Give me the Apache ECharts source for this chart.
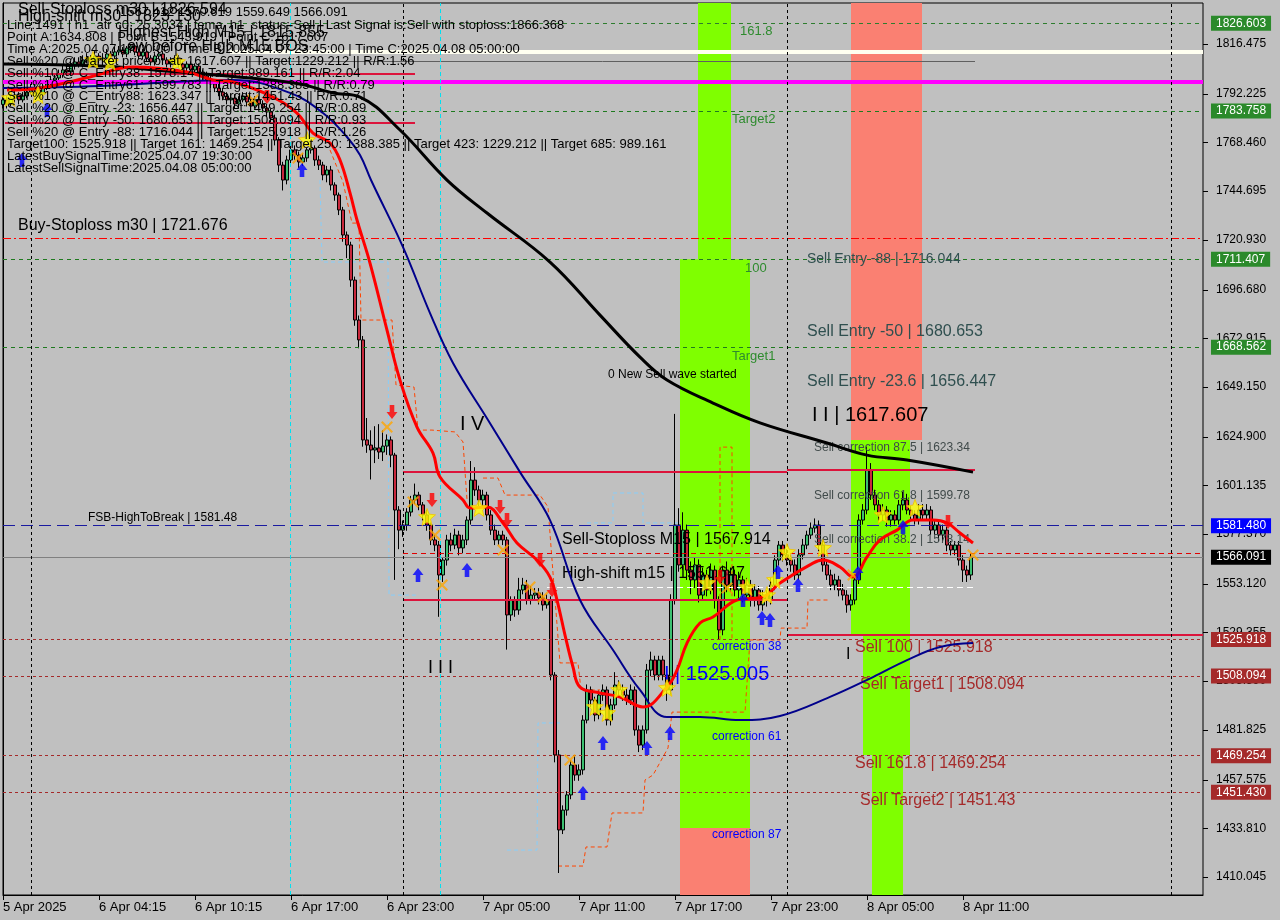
<!DOCTYPE html>
<html><head><meta charset="utf-8">
<script src="https://cdn.jsdelivr.net/npm/echarts@6/dist/echarts.min.js"></script>
<style>html,body{margin:0;padding:0;background:#c0c0c0;}#c{width:1280px;height:920px;}</style>
</head><body><div id="c"></div>
<script>
// ---------------- DATA ----------------
const timeLabels = ['5 Apr 2025','6 Apr 04:15','6 Apr 10:15','6 Apr 17:00','6 Apr 23:00','7 Apr 05:00','7 Apr 11:00','7 Apr 17:00','7 Apr 23:00','8 Apr 05:00','8 Apr 11:00'];
const yTicks = [1816.475,1792.225,1768.460,1744.695,1720.930,1696.680,1672.915,1649.150,1624.900,1601.135,1577.370,1553.120,1529.355,1505.590,1481.825,1457.575,1433.810,1410.045];
const firstOpen = 1787.0;
const closes = [1789.2,1787.2,1790.1,1791.6,1789.2,1791.1,1793.0,1795.0,1794.0,1792.1,
1795.0,1797.0,1798.9,1799.9,1801.8,1803.8,1802.8,1805.7,1807.7,1806.7,
1808.7,1809.6,1807.7,1810.6,1808.7,1809.6,1811.6,1810.6,1812.6,1813.5,
1811.6,1814.5,1815.5,1812.6,1810.6,1812.6,1809.6,1807.7,1810.6,1811.6,
1808.7,1806.7,1808.7,1809.6,1806.7,1804.8,1806.7,1803.8,1805.7,1802.8,
1800.9,1798.9,1797.0,1795.0,1793.0,1791.1,1789.2,1790.1,1787.2,1789.2,
1791.1,1788.2,1786.2,1789.2,1787.2,1785.2,1783.3,1780.4,1769.6,1757.4,
1750.1,1759.9,1764.8,1762.3,1758.9,1760.9,1764.8,1765.7,1759.9,1757.4,
1752.6,1755.0,1747.7,1742.8,1735.5,1723.3,1718.4,1701.3,1681.8,1672.1,
1623.3,1620.8,1618.4,1619.4,1617.4,1620.3,1623.3,1615.9,1589.1,1579.3,
1581.8,1588.1,1594.0,1596.4,1591.6,1586.7,1581.8,1574.5,1572.0,1557.4,
1564.7,1574.5,1572.0,1576.9,1570.6,1574.5,1584.2,1603.7,1598.9,1594.0,
1596.4,1586.7,1579.3,1574.5,1576.9,1574.5,1537.9,1545.2,1540.3,1550.1,
1552.5,1545.2,1547.6,1548.6,1546.2,1542.8,1545.2,1508.6,1469.6,1433.0,
1442.7,1450.1,1464.7,1459.8,1462.3,1486.6,1501.3,1496.4,1489.1,1498.8,
1501.3,1486.6,1494.0,1503.7,1501.3,1498.8,1496.4,1501.3,1481.8,1474.4,
1481.8,1511.0,1515.9,1508.6,1515.9,1508.6,1501.3,1545.2,1581.8,1562.3,
1579.3,1559.8,1555.0,1562.3,1547.6,1557.4,1550.1,1559.8,1545.2,1530.6,
1559.8,1552.5,1557.4,1550.1,1555.0,1547.6,1552.5,1545.2,1550.1,1542.8,
1547.6,1545.2,1552.5,1564.7,1572.0,1567.2,1564.7,1562.3,1557.4,1567.2,
1572.0,1576.9,1580.3,1581.8,1572.0,1562.3,1557.4,1552.5,1555.0,1550.1,
1547.6,1542.8,1545.2,1555.0,1584.2,1589.1,1608.6,1596.4,1591.6,1586.7,
1589.1,1584.2,1586.7,1584.2,1591.6,1594.0,1589.1,1586.7,1584.2,1589.1,
1586.7,1589.1,1579.3,1581.8,1576.9,1579.3,1572.0,1569.6,1572.0,1564.7,
1559.8,1557.4,1566.1];
const highs = [1791,1791,1792,1794,1793,1793,1795,1797,1797,1796,
1797,1799,1801,1802,1804,1806,1806,1808,1810,1810,
1811,1812,1811,1813,1812,1812,1814,1813,1815,1815.5,
1815,1815.5,1815.9,1815.8,1814,1814,1814,1811,1812,1813,
1813,1810,1810,1811,1811,1808,1808,1808,1807,1807,
1804,1803,1801,1799,1797,1795,1793,1792,1792,1791,
1793,1793,1790,1791,1791,1789,1787,1785,1782,1771,
1759,1762,1767,1767,1764,1763,1766,1768,1767,1762,
1759,1757,1757,1749,1744,1737,1725,1720,1703,1684,
1674,1634,1628,1630,1631,1628,1626,1625,1617,1591,
1584,1590,1596,1602,1598,1593,1589,1583,1577,1574,
1566,1577,1578,1580,1579,1577,1586,1613,1610,1601,
1599,1598,1589,1582,1579,1579,1576,1547,1547,1556,
1556,1555,1552,1551,1551,1549,1548,1547,1510,1472,
1445,1452,1467,1469,1465,1489,1504,1503,1498,1501,
1504,1503,1497,1510,1506,1504,1502,1504,1503,1484,
1484,1514,1520,1518,1518,1518,1511,1548,1636,1590,
1588,1582,1564,1566,1565,1561,1560,1563,1562,1547,
1562,1564,1561,1560,1559,1557,1556,1555,1553,1552,
1550,1550,1556,1567,1574,1574,1570,1567,1565,1570,
1575,1579,1583,1585,1584,1574,1565,1560,1558,1557,
1553,1550,1548,1558,1587,1592,1620,1612,1599,1594,
1592,1591,1589,1589,1594,1598,1597,1591,1589,1592,
1592,1592,1591,1584,1584,1582,1581,1574,1574,1574,
1567,1562,1568];
const lows = [1785,1785,1786,1788,1787,1788,1790,1792,1792,1790,
1791,1794,1796,1797,1798,1800,1801,1801,1804,1805,
1805,1807,1806,1806,1807,1807,1808,1809,1809,1811,
1810,1810,1813,1811,1809,1809,1808,1806,1806,1809,
1807,1805,1805,1807,1805,1803,1803,1802,1802,1801,
1799,1797,1795,1793,1791,1789,1787,1787,1785,1785,
1788,1786,1784,1785,1785,1783,1781,1778,1767,1754,
1745,1748,1757,1760,1756,1757,1759,1763,1757,1755,
1750,1749,1745,1740,1733,1720,1712,1698,1679,1668,
1620,1617,1604,1612,1614,1613,1616,1610,1555,1570,
1576,1579,1586,1592,1589,1584,1579,1572,1569,1537,
1554,1562,1569,1570,1567,1568,1572,1582,1596,1591,
1591,1584,1577,1572,1572,1572,1521,1535,1537,1538,
1548,1543,1543,1545,1543,1540,1541,1506,1466,1412,
1431,1440,1448,1457,1457,1460,1485,1493,1486,1487,
1496,1484,1484,1492,1498,1496,1494,1494,1479,1471,
1472,1480,1508,1506,1506,1506,1496,1499,1543,1559,
1560,1555,1548,1551,1544,1545,1547,1548,1541,1526,
1528,1549,1549,1547,1546,1544,1545,1542,1542,1540,
1540,1542,1543,1550,1562,1564,1562,1559,1555,1555,
1565,1570,1575,1578,1569,1559,1555,1550,1550,1547,
1545,1539,1540,1543,1553,1582,1587,1594,1589,1584,
1584,1581,1581,1582,1582,1589,1587,1584,1582,1582,
1584,1584,1577,1577,1574,1574,1569,1567,1567,1562,
1554,1554,1555];

// moving averages: [bar slot, price]
const slowMA = [[0,1806.7],[24.25,1805.7],[44.25,1802.8],[61.75,1799.9],[74.25,1797.0],[82.5,1792.6],[89.25,1790.6],[99.25,1774.5],[111,1750.1],[121,1734.0],[136.75,1710.1],[149.25,1684.2],[159.25,1663.7],[166,1652.5],[177.5,1641.3],[189.25,1631.6],[206,1621.8],[216,1615.9],[226,1613.5],[242.5,1607.6]];
const midMA = [[0,1795.0],[24.25,1796.0],[57.5,1798.9],[71.75,1792.6],[80,1782.8],[86,1771.1],[89.25,1762.3],[92,1750.1],[100,1717.4],[106.75,1685.2],[112.5,1660.8],[121.25,1633.0],[129.25,1607.6],[136.75,1584.2],[144.25,1545.2],[152.5,1520.8],[159.25,1501.3],[166,1488.1],[174.25,1488.1],[184.25,1486.6],[194.25,1488.6],[206.75,1497.9],[217.5,1507.6],[226,1515.9],[234.25,1522.3],[242.5,1524.2]];
const fastMA = [[1,1794.0],[9.25,1795.0],[21.75,1800.4],[32.5,1805.2],[46,1802.8],[52.5,1798.9],[57.5,1797.9],[67.5,1790.6],[73.5,1782.8],[77.5,1773.0],[81.75,1768.2],[84.25,1759.9],[86.75,1743.8],[88.5,1730.6],[91.75,1709.6],[96,1676.9],[99.25,1652.5],[103.5,1629.6],[107.5,1616.9],[109.25,1605.2],[115,1594.0],[116.75,1590.1],[121,1590.6],[125,1582.8],[128.5,1573.0],[133.5,1564.7],[136.75,1556.4],[138.5,1545.2],[140.5,1528.1],[142.5,1512.5],[144.25,1502.7],[149.25,1499.8],[154.25,1497.9],[160,1493.0],[166,1502.7],[168.5,1511.0],[171,1524.2],[174.25,1534.0],[177.5,1536.9],[183.5,1545.2],[190,1546.7],[194.25,1553.5],[202.5,1563.2],[205,1564.7],[209.25,1561.3],[212.5,1556.4],[216,1566.2],[219.25,1574.5],[223.5,1579.3],[227.5,1584.2],[232.5,1584.2],[236,1582.8],[239.25,1577.9],[242.5,1573.0]];

// thin step envelopes
const orangeTrails = [
 [[81.75,1764.8],[85,1749.1],[87.25,1729.1],[89,1729.1],[89.5,1681.8],[97.25,1681.8],[98.25,1650.1],[102.75,1649.1],[103.75,1628.1],[107.25,1628.1],[113,1627.2],[115,1622.3],[116,1594.0]],
 [[120,1604.7],[123.75,1604.7],[125.5,1596.4],[134.25,1596.4],[136.25,1590.6],[137.25,1564.7],[139.25,1514.5],[143.75,1514.5],[144.5,1501.3],[149.25,1501.3]],
 [[138.75,1415.4],[145,1415.4],[145.75,1424.7],[151,1424.7],[152.25,1441.3],[160,1441.3],[160.5,1457.4],[162.5,1459.8],[166.25,1473.0],[167.25,1490.5],[185.5,1490.5],[186.75,1525.7],[194.25,1525.7],[194.5,1531.5],[201,1531.5],[201.25,1545.2],[206.75,1545.2]],
 [[179.25,1525.7],[179.25,1619.8],[182.25,1619.8],[182.25,1525.7]]
];
const blueTrails = [
 [[79.25,1750.1],[79.75,1710.1],[96.25,1710.1],[96.5,1547.6],[103.75,1547.6]],
 [[146,1582.8],[152.5,1582.8],[152.5,1597.4],[160,1597.4],[160,1582.8],[168.75,1582.8]],
 [[126,1423.2],[133.5,1423.2],[133.75,1485.2],[139.25,1485.2]]
];

// price levels shown with a box on the price axis
const boxLevels = [1826.603,1783.758,1711.407,1668.562,1581.480,1566.091,1525.918,1508.094,1469.254,1451.430];
const boxKinds  = ['stop','green','green','green','blue','price','brown','brown','brown','brown'];
const buyStop = 1721.676;
// horizontal segments [fromSlot, toSlot, price, kind]
const segments = [
 [56.75,300,1812.6,'ivory'],[56.75,243,1808.2,'thin'],[0,300,1797.9,'magenta'],
 [0.5,103,1801.8,'red'],[0.5,103,1777.9,'red'],
 [100,196,1607.6,'crimson'],[196,243,1608.6,'crimson'],[100,196,1545.2,'crimson'],[196,300,1528.1,'crimson'],
 [100,300,1567.914,'reddash'],[136,243,1551.647,'whitedash']
];
const daySeparators = [7,100,196,292];
const cyanVerticals = [71.75,109.25];

// coloured zones [x1,x2,priceTop,priceBottom,kind]
const zones = [
 [173.75,182,1836.5,1711.4,'green'],[169.25,186.75,1711.4,1434.0,'green'],[169.25,186.75,1434.0,1401.3,'salmon'],
 [212,229.75,1836.5,1623.3,'salmon'],[212,226.75,1623.3,1528.1,'green'],[215,226.75,1528.1,1469.6,'green'],[217.25,225,1469.6,1401.3,'green']
];

// chart annotations [slot, price, text, kind]
const notes = [
 [3.75,1727.7,'Buy-Stoploss m30 | 1721.676','big'],
 [21.25,1585.2,'FSB-HighToBreak | 1581.48','small'],
 [184.25,1822.8,'161.8','fib'],[182.25,1779.9,'Target2','fib'],[185.5,1707.2,'100','fib'],[182.25,1664.2,'Target1','fib'],
 [151.25,1655.0,'0 New Sell wave started','small'],
 [201,1711.6,'Sell Entry -88 | 1716.044','entryS'],
 [201,1676.4,'Sell Entry -50 | 1680.653','entry'],
 [201,1652.0,'Sell Entry -23.6 | 1656.447','entry'],
 [202.25,1635.0,'I I | 1617.607','wave'],
 [202.75,1619.4,'Sell correction 87.5 | 1623.34','corr'],
 [202.75,1596.0,'Sell correction 61.8 | 1599.78','corr'],
 [202.75,1574.5,'Sell correction 38.2 | 1578.14','corr'],
 [114.25,1630.6,'I V','wave'],
 [106.25,1512.0,'I I I','wave3'],
 [139.75,1574.5,'Sell-Stoploss M15 | 1567.914','big'],
 [139.75,1557.9,'High-shift m15 | 1551.647','big'],
 [165.25,1509.1,'I | 1525.005','waveBlue'],
 [177.25,1522.3,'correction 38','blue'],[177.25,1478.4,'correction 61','blue'],[177.25,1430.5,'correction 87','blue'],
 [213,1521.8,'Sell 100 | 1525.918','target'],[214.25,1503.7,'Sell Target1 | 1508.094','target'],
 [213,1465.2,'Sell 161.8 | 1469.254','target'],[214.25,1447.1,'Sell Target2 | 1451.43','target'],
 [210.75,1518.4,'I','mark']
];

// signal markers [slot, price]
const stars = [[1.75,1790.1],[8.75,1791.6],[22.5,1808.7],[26.75,1807.7],[43.5,1807.7],[76,1769.6],[106,1585.7],[119,1590.1],[148,1493.0],[151,1490.1],[154,1501.3],[166,1502.3],[176,1553.5],[186,1551.5],[191,1547.6],[193,1555.0],[196,1568.6],[205,1570.6],[220,1586.7],[228,1590.1]];
const crosses = [[62.5,1789.2],[73.75,1760.9],[96,1629.6],[102.5,1593.0],[108,1576.9],[109.75,1552.5],[125,1569.6],[131.75,1551.5],[135,1546.7],[141.75,1467.1],[181,1551.0],[212.5,1557.4],[242.5,1567.2]];
const upArrows = [[4.75,1759.9],[11,1784.3],[74.75,1755.0],[103.75,1557.4],[116,1559.8],[145,1451.0],[150,1475.4],[161,1473.0],[166.75,1480.3],[185,1545.2],[189.75,1536.4],[191.75,1535.4],[193.75,1558.9],[198.75,1552.5],[213.75,1558.4],[225,1580.8]];
const downArrows = [[66,1790.6],[97.25,1636.9],[107.25,1594.0],[124.25,1590.6],[126,1584.2],[134.25,1564.7],[137.25,1550.1],[179.25,1556.4],[236.25,1583.3]];

// information panel (screen comment)
const infoLines = [
 'Line:1491 | h1_atr c0: 25.3034 | tema_h1_status: Sell | Last Signal is:Sell with stoploss:1866.368',
 'Point A:1634.808 | Point B:1543.919 | Point C:1617.607',
 'Time A:2025.04.07 17:00:00 | Time B:2025.04.07 23:45:00 | Time C:2025.04.08 05:00:00',
 'Sell %20 @ Market price or at: 1617.607 || Target:1229.212 || R/R:1.56',
 'Sell %10 @ C_Entry38: 1578.14 || Target:989.161 || R/R:2.04',
 'Sell %10 @ C_Entry61: 1599.783 || Target:1388.385 || R/R:0.79',
 'Sell %10 @ C_Entry88: 1623.347 || Target:1451.43 || R/R:0.71',
 'Sell %20 @ Entry -23: 1656.447 || Target:1469.254 || R/R:0.89',
 'Sell %20 @ Entry -50: 1680.653 || Target:1508.094 || R/R:0.93',
 'Sell %20 @ Entry -88: 1716.044 || Target:1525.918 || R/R:1.26',
 'Target100: 1525.918 || Target 161: 1469.254 || Target 250: 1388.385 || Target 423: 1229.212 || Target 685: 989.161',
 'LatestBuySignalTime:2025.04.07 19:30:00',
 'LatestSellSignalTime:2025.04.08 05:00:00'
];
const headerText = '1567.412 1570.619 1559.649 1566.091';
const bigHeaders = ['Sell-Stoploss m30 | 1826.594','High-shift m30 | 1823.130','Highest High M15 | 1815.855','Low before High M15 BOS'];

// ---------------- CHART ----------------
const FONT = "'Liberation Sans', Arial, sans-serif";
const chart = echarts.init(document.getElementById('c'), null, {renderer:'canvas'});

const candleData = closes.map((c,i)=>[i, i===0?firstOpen:closes[i-1], c, lows[i], highs[i]]);

const boxStyle = {
  stop:{line:'#2e7d2e',type:[4,4],bg:'#2b8a2b'}, green:{line:'#1f7a1f',type:[4,4],bg:'#2b8a2b'},
  blue:{line:'#1a1aa0',type:[12,6],bg:'#0000ff'}, price:{line:'#808080',type:'solid',bg:'#000000'},
  brown:{line:'#a52a2a',type:[3,3],bg:'#a52a2a'}
};
const segStyle = {
  ivory:{c:'#fffff0',w:4,t:'solid'}, thin:{c:'#606060',w:1,t:'solid'}, magenta:{c:'#ff00ff',w:4,t:'solid'},
  red:{c:'#dc143c',w:2,t:'solid'}, crimson:{c:'#dc143c',w:2,t:'solid'}, reddash:{c:'#e00000',w:1,t:[5,4]},
  whitedash:{c:'#ffffff',w:1,t:[6,4]}
};
const noteStyle = {
  big:{c:'#000',s:16}, small:{c:'#000',s:12}, fib:{c:'#2e8b2e',s:13}, entry:{c:'#2f4f4f',s:16}, entryS:{c:'#2f4f4f',s:14},
  wave:{c:'#000',s:20}, wave3:{c:'#000',s:18}, corr:{c:'#404a4a',s:12}, waveBlue:{c:'#0000ff',s:20}, blue:{c:'#0000ff',s:12},
  target:{c:'#a52a2a',s:16}, mark:{c:'#000',s:16}
};

const levelLines = boxLevels.map((v,i)=>{
  const st = boxStyle[boxKinds[i]];
  return {yAxis:v, lineStyle:{color:st.line,type:st.type,width:1},
    label:{show:true,position:'end',distance:8,formatter:v.toFixed(3),backgroundColor:st.bg,color:'#fff',
      padding:[2,5,1,5],fontSize:12,fontFamily:FONT}};
});
levelLines.push({yAxis:buyStop,lineStyle:{color:'#ff0000',type:[8,3,2,3],width:1},label:{show:false}});
const segLines = segments.map(s=>{
  const st = segStyle[s[3]];
  return [{coord:[s[0],s[2]],lineStyle:{color:st.c,width:st.w,type:st.t},label:{show:false}},{coord:[s[1],s[2]]}];
});
const vLines = daySeparators.map(x=>({xAxis:x,lineStyle:{color:'#000',type:[3,3],width:1},label:{show:false}}))
  .concat(cyanVerticals.map(x=>({xAxis:x,lineStyle:{color:'#00e0f0',type:[4,3],width:1},label:{show:false}})));

const zoneColors = {green:'#7fff00', salmon:'#fa8072'};
const zoneData = zones.map(z=>[{xAxis:z[0],yAxis:z[2],itemStyle:{color:zoneColors[z[4]],opacity:1}},{xAxis:z[1],yAxis:z[3]}]);

const noteData = notes.map(n=>{
  const st = noteStyle[n[3]];
  return {coord:[n[0],n[1]], value:0, label:{show:true,position:'right',distance:0,formatter:n[2],color:st.c,fontSize:st.s,fontFamily:FONT}};
});

const STAR = 'path://M12,0 L15,8 L24,9 L17,15 L19,24 L12,19 L5,24 L7,15 L0,9 L9,8 Z';
const CROSS = 'path://M0,3 L3,0 L12,9 L21,0 L24,3 L15,12 L24,21 L21,24 L12,15 L3,24 L0,21 L9,12 Z';
const UP = 'path://M6,0 L12,7 L8.5,7 L8.5,14 L3.5,14 L3.5,7 L0,7 Z';
const DOWN = 'path://M3.5,0 L8.5,0 L8.5,7 L12,7 L6,14 L0,7 L3.5,7 Z';

const graphics = [];
graphics.push({type:'text',left:120,top:6,z:100,style:{text:headerText,font:'13px '+FONT,fill:'#000'}});
infoLines.forEach((t,i)=>graphics.push({type:'text',left:7,top:19+i*11.9,z:100,style:{text:t,font:'13px '+FONT,fill:'#000'}}));
graphics.push({type:'text',left:18,top:2,z:101,style:{text:bigHeaders[0],font:'16px '+FONT,fill:'#000'}});
graphics.push({type:'text',left:18,top:9,z:101,style:{text:bigHeaders[1],font:'16px '+FONT,fill:'#000'}});
graphics.push({type:'text',left:118,top:25,z:101,style:{text:bigHeaders[2],font:'16px '+FONT,fill:'#000'}});
graphics.push({type:'text',left:118,top:39,z:101,style:{text:bigHeaders[3],font:'16px '+FONT,fill:'#000'}});

const series = [
  {type:'scatter',name:'zones',data:[],z:1,silent:true,markArea:{silent:true,data:zoneData}},
  {type:'scatter',name:'levels',data:[],z:2,silent:true,
    markLine:{silent:true,symbol:['none','none'],animation:false,data:levelLines.concat(segLines).concat(vLines)}},
  ...orangeTrails.map(d=>({type:'line',data:d,z:3,showSymbol:false,silent:true,lineStyle:{color:'#ff4500',width:1,type:[4,3]}})),
  ...blueTrails.map(d=>({type:'line',data:d,z:3,showSymbol:false,silent:true,lineStyle:{color:'#87cefa',width:1,type:[4,3]}})),
  {type:'candlestick',name:'price',data:candleData,encode:{x:0,y:[1,2,3,4]},barWidth:3,z:4,
    itemStyle:{color:'#3cc070',color0:'#c8283c',borderColor:'#000',borderColor0:'#000',borderWidth:1}},
  {type:'line',data:slowMA,smooth:0.4,showSymbol:false,z:5,lineStyle:{color:'#000',width:3}},
  {type:'line',data:midMA,smooth:0.4,showSymbol:false,z:5,lineStyle:{color:'#00008b',width:2}},
  {type:'line',data:fastMA,smooth:0.4,showSymbol:false,z:5,lineStyle:{color:'#ff0000',width:3}},
  {type:'scatter',data:stars,symbol:STAR,symbolSize:17,z:7,itemStyle:{color:'#ffff00',borderColor:'#f0c000',borderWidth:1}},
  {type:'scatter',data:crosses,symbol:CROSS,symbolSize:12,z:7,itemStyle:{color:'#ffa500'}},
  {type:'scatter',data:upArrows,symbol:UP,symbolSize:[11,14],z:7,itemStyle:{color:'#0000ff'}},
  {type:'scatter',data:downArrows,symbol:DOWN,symbolSize:[11,14],z:7,itemStyle:{color:'#ff0000'}},
  {type:'scatter',name:'notes',data:[],z:8,silent:true,clip:false,
    markPoint:{silent:true,symbol:'circle',symbolSize:0,animation:false,data:noteData}}
];

chart.setOption({
  animation:false,
  backgroundColor:'#c0c0c0',
  textStyle:{fontFamily:FONT},
  grid:{left:3,right:77,top:3,bottom:25,show:true,borderColor:'#000',borderWidth:1,backgroundColor:'transparent'},
  xAxis:{type:'value',min:0,max:300,interval:24,
    axisLine:{show:true,lineStyle:{color:'#000'}},
    axisTick:{show:false},
    splitLine:{show:false},
    axisLabel:{color:'#000',fontSize:13,fontFamily:"'Liberation Sans Narrow','Liberation Sans',sans-serif",align:'left',margin:6,showMaxLabel:false,
      formatter:v=>{const k=Math.round(v/24);return (Math.abs(v-k*24)<1e-6 && timeLabels[k])||'';}}},
  yAxis:{type:'value',position:'right',min:1401.27,max:1836.48,scale:true,
    axisLine:{show:true,lineStyle:{color:'#000'}},
    axisTick:{show:false},
    splitLine:{show:false},
    axisLabel:{color:'#000',fontSize:12,margin:13,customValues:yTicks,formatter:v=>v.toFixed(3)}},
  graphic:graphics,
  series:series
});

// axis tick marks placed through the chart's own scales
const rightX = chart.convertToPixel({xAxisIndex:0}, 300);
const bottomY = chart.convertToPixel({yAxisIndex:0}, 1401.27);
const tickMarks = [];
yTicks.forEach(v=>{const y=Math.round(chart.convertToPixel({yAxisIndex:0}, v))+0.5;
  tickMarks.push({type:'line',z:50,shape:{x1:rightX,y1:y,x2:rightX+5,y2:y},style:{stroke:'#000',lineWidth:1}});});
timeLabels.forEach((t,k)=>{const x=Math.round(chart.convertToPixel({xAxisIndex:0}, k*24))+0.5;
  tickMarks.push({type:'line',z:50,shape:{x1:x,y1:bottomY,x2:x,y2:bottomY+5},style:{stroke:'#000',lineWidth:1}});});
chart.setOption({graphic:graphics.concat(tickMarks)});
</script></body></html>
